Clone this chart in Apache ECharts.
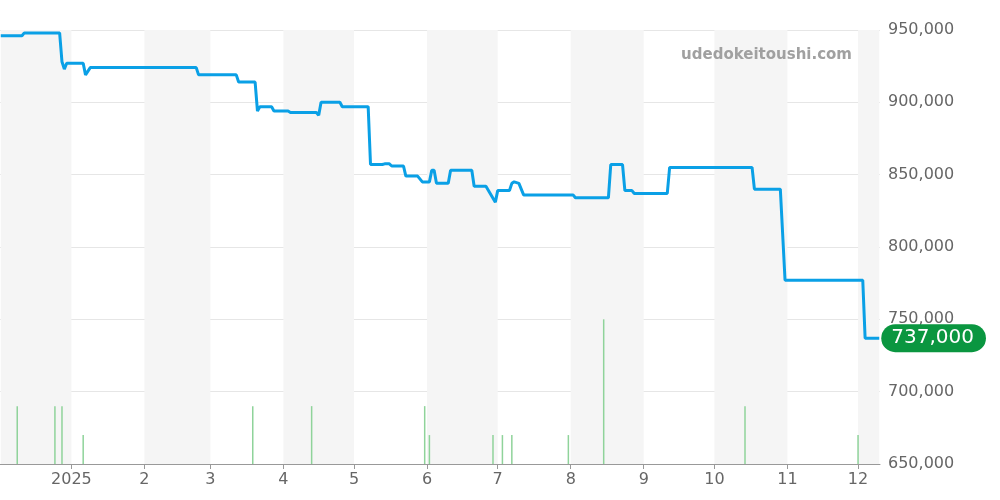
<!DOCTYPE html>
<html><head><meta charset="utf-8">
<script src="https://cdn.jsdelivr.net/npm/echarts@6/dist/echarts.min.js"></script>
<style>html,body{margin:0;padding:0;background:#fff}#main{width:1000px;height:500px}</style>
</head><body><div id="main"></div>
<script>
var priceDates = ['2024-12-02','2024-12-11','2024-12-12','2024-12-27','2024-12-28','2024-12-29','2024-12-30','2025-01-06','2025-01-07','2025-01-09',
  '2025-02-23','2025-02-24','2025-03-12','2025-03-13','2025-03-20','2025-03-21','2025-03-22','2025-03-27','2025-03-28',
  '2025-04-03','2025-04-04','2025-04-15','2025-04-16','2025-04-17','2025-04-25','2025-04-26','2025-05-07','2025-05-08',
  '2025-05-13','2025-05-14','2025-05-16','2025-05-17','2025-05-22','2025-05-23','2025-05-28','2025-05-30','2025-06-02',
  '2025-06-03','2025-06-04','2025-06-05','2025-06-10','2025-06-11','2025-06-20','2025-06-21','2025-06-26','2025-06-30',
  '2025-07-01','2025-07-06','2025-07-07','2025-07-08','2025-07-10','2025-07-12','2025-08-02','2025-08-03','2025-08-17',
  '2025-08-18','2025-08-23','2025-08-24','2025-08-27','2025-08-28','2025-09-11','2025-09-12','2025-10-17','2025-10-18',
  '2025-10-29','2025-10-31','2025-12-03','2025-12-04','2025-12-10'];
var priceValues = [946000,946000,948000,948000,928000,923000,927000,927000,919000,924000,
  924000,919000,919000,914000,914000,894000,897000,897000,894000,
  894000,893000,893000,891000,900000,900000,897000,897000,857000,
  857000,857500,857500,856000,856000,849000,849000,845000,845000,
  853000,853000,844000,844000,853000,853000,842000,842000,831000,
  839000,839000,844000,845000,844000,836000,836000,834000,834000,
  857000,857000,839000,839000,837000,837000,855000,855000,840000,
  840000,777000,777000,737000,737000];
var volDates = ['2024-12-09','2024-12-25','2024-12-28','2025-01-06','2025-03-19','2025-04-13','2025-05-31','2025-06-02',
  '2025-06-29','2025-07-03','2025-07-07','2025-07-31','2025-08-15','2025-10-14','2025-12-01'];
var volValues = [2,2,2,1,2,2,2,1,1,1,1,1,5,2,1];
var bands = [['2024-12-02','2025-01-01'],['2025-02-01','2025-03-01'],['2025-04-01','2025-05-01'],
  ['2025-06-01','2025-07-01'],['2025-08-01','2025-09-01'],['2025-10-01','2025-11-01'],['2025-12-01','2025-12-10']];

var chart = echarts.init(document.getElementById('main'));
chart.setOption({
  animation: false,
  title: {text: 'udedokeitoushi.com', right: 143, top: 43,
    textStyle: {color: '#a0a0a0', fontSize: 15, fontWeight: 'bold', fontFamily: 'DejaVu Sans'}},
  grid: {left: 0, right: 120, top: 30, bottom: 36},
  xAxis: {
    type: 'time', min: '2024-12-02', max: '2025-12-10', splitNumber: 12,
    axisLine: {lineStyle: {color: '#999'}},
    axisTick: {show: true, lineStyle: {color: '#999'}},
    splitLine: {show: false},
    axisLabel: {color: '#666', fontSize: 16, fontFamily: 'DejaVu Sans', hideOverlap: false,
      formatter: {year: '{yyyy}', month: '{M}', day: ''}}
  },
  yAxis: [{
    type: 'value', position: 'right', min: 650000, max: 950000, interval: 50000,
    axisLine: {show: false}, axisTick: {show: false},
    splitLine: {lineStyle: {color: '#e6e6e6'}},
    axisLabel: {color: '#666', fontSize: 16, fontFamily: 'DejaVu Sans', margin: 8, verticalAlign: 'middle',
      formatter: function (v) { return v.toLocaleString('en-US'); }}
  }, {
    type: 'value', min: 0, max: 15, show: false
  }],
  series: [{
    type: 'line', data: priceDates.map(function (d, i) { return [d, priceValues[i]]; }),
    showSymbol: false, lineStyle: {color: '#0aa0e6', width: 3}, itemStyle: {color: '#0aa0e6'},
    endLabel: {show: true, formatter: '737,000', color: '#fff', fontSize: 20, fontFamily: 'DejaVu Sans',
      backgroundColor: '#0a9640', borderRadius: 16, padding: [4, 12, 4, 10], offset: [-6, 0]},
    markArea: {silent: true, itemStyle: {color: '#f5f5f5'},
      data: bands.map(function (b) { return [{xAxis: b[0]}, {xAxis: b[1]}]; })},
    z: 3
  }, {
    type: 'bar', yAxisIndex: 1, barWidth: 1.5,
    data: volDates.map(function (d, i) { return [d, volValues[i]]; }),
    itemStyle: {color: '#8fd39a'}
  }]
});
</script></body></html>
